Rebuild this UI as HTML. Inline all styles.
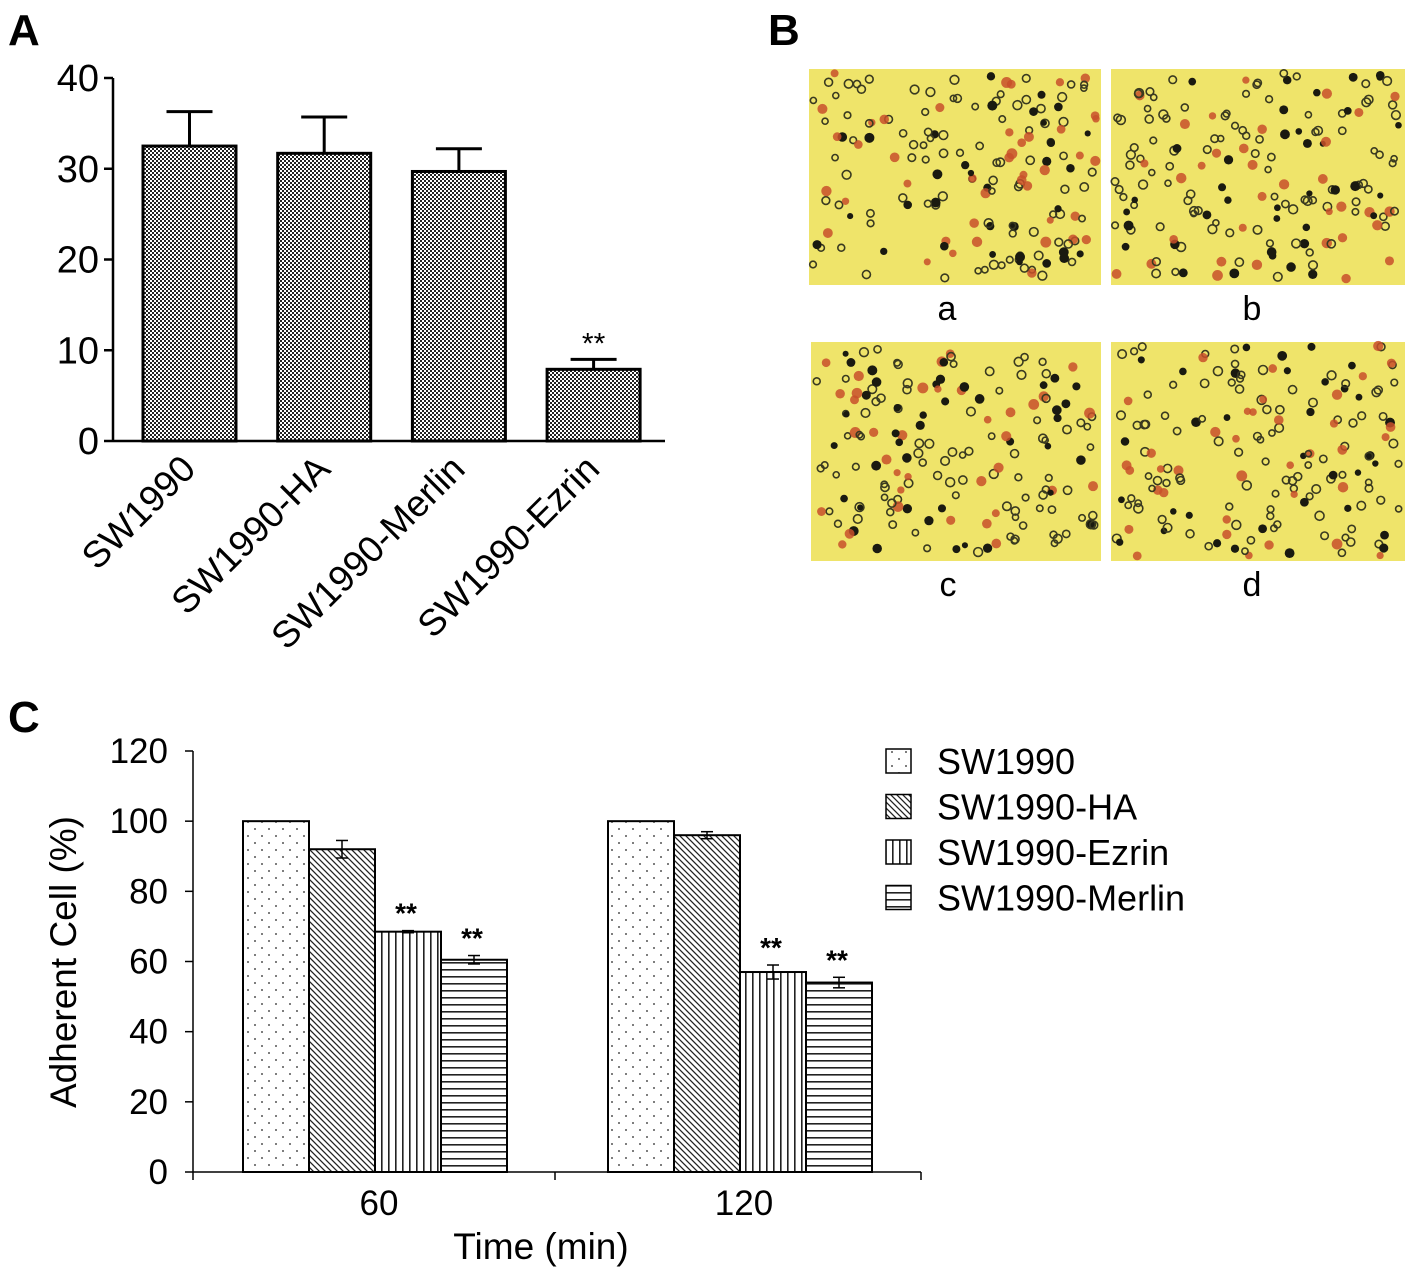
<!DOCTYPE html>
<html><head><meta charset="utf-8"><style>
body{margin:0;background:#fff;}
svg{display:block;font-family:"Liberation Sans",Arial,sans-serif;}
</style></head><body>
<svg id="fig" width="1417" height="1274" viewBox="0 0 1417 1274">
<defs>
<pattern id="pchk" width="4" height="4" patternUnits="userSpaceOnUse"><rect width="4" height="4" fill="#fff"/><rect width="2" height="2" fill="#222"/><rect x="2" y="2" width="2" height="2" fill="#222"/></pattern>
<pattern id="pdot" width="14" height="14" patternUnits="userSpaceOnUse"><rect width="14" height="14" fill="#fff"/><circle cx="3" cy="3" r="1" fill="#555"/><circle cx="10" cy="10" r="1" fill="#555"/></pattern>
<pattern id="pdiag" width="6" height="6" patternUnits="userSpaceOnUse"><rect width="6" height="6" fill="#fff"/><path d="M-1,-1 L7,7 M-4,2 L1,7 M5,-1 L7,1" stroke="#222" stroke-width="1.3"/></pattern>
<pattern id="pvert" width="7" height="7" patternUnits="userSpaceOnUse"><rect width="7" height="7" fill="#fff"/><rect x="3" width="1.6" height="7" fill="#222"/></pattern>
<pattern id="phorz" width="7" height="7" patternUnits="userSpaceOnUse"><rect width="7" height="7" fill="#fff"/><rect y="3" width="7" height="1.6" fill="#222"/></pattern>
</defs>
<text x="8" y="45" font-size="44" font-weight="bold">A</text>
<text x="768" y="45" font-size="44" font-weight="bold">B</text>
<text x="8" y="732" font-size="44" font-weight="bold">C</text>
<g id="chartA"></g>
<g id="panelB"></g>
<g id="chartC"></g>
</svg>
<script>
const NS="http://www.w3.org/2000/svg";
function mk(parent,tag,attrs,text){const e=document.createElementNS(NS,tag);for(const k in attrs)e.setAttribute(k,attrs[k]);if(text!==undefined)e.textContent=text;parent.appendChild(e);return e;}

// ---- Chart A data ----
const aCategories=["SW1990","SW1990-HA","SW1990-Merlin","SW1990-Ezrin"];
const aValues=[32.5,31.7,29.7,7.9];
const aErrors=[3.8,4.0,2.5,1.1];
const aSig=["","","","**"];
const aTicks=[0,10,20,30,40];

// ---- Chart C data ----
const cGroups=["60","120"];
const cSeries=["SW1990","SW1990-HA","SW1990-Ezrin","SW1990-Merlin"];
const cValues=[[100,92,68.5,60.5],[100,96,57,54]];
const cErrors=[[0,2.5,0.3,1.2],[0,1,2,1.5]];
const cSig=[["","","**","**"],["","","**","**"]];
const cTicks=[0,20,40,60,80,100,120];
const cFills=["url(#pdot)","url(#pdiag)","url(#pvert)","url(#phorz)"];

// Chart A
(function(){
const g=document.getElementById('chartA');
const x0=113,xEnd=665,y0=441,yTop=78,max=40;
const y=v=>y0-(v/max)*(y0-yTop);
const left=143,step=134.7,bw=93;
mk(g,'line',{x1:x0,y1:y0,x2:xEnd,y2:y0,stroke:'#000','stroke-width':2.5});
mk(g,'line',{x1:x0,y1:yTop,x2:x0,y2:y0,stroke:'#000','stroke-width':2.5});
aTicks.forEach(t=>{
 mk(g,'line',{x1:x0-9,y1:y(t),x2:x0,y2:y(t),stroke:'#000','stroke-width':2.5});
 const tl=mk(g,'text',{x:x0-14,y:y(t)+13,'font-size':38,'text-anchor':'end'},String(t));
 
 
});
aValues.forEach((v,i)=>{
 const bx=left+i*step, cx=bx+bw/2;
 const e=y(v+aErrors[i]);
 mk(g,'line',{x1:cx,y1:e,x2:cx,y2:y(v),stroke:'#000','stroke-width':3});
 mk(g,'line',{x1:cx-23,y1:e,x2:cx+23,y2:e,stroke:'#000','stroke-width':3});
 const r=mk(g,'rect',{x:bx,y:y(v),width:bw,height:y0-y(v),fill:'url(#pchk)',stroke:'#000','stroke-width':3});
 
 
 if(aSig[i]){const s=mk(g,'text',{x:cx,y:e-6,'font-size':30,'text-anchor':'middle'},aSig[i]);
  
  }
 const tl=mk(g,'text',{x:cx+8,y:y0+30,'font-size':37,'text-anchor':'end',transform:`rotate(-45 ${cx+8} ${y0+30})`},aCategories[i]);
 
 
});
})();

// Panel B micrographs (decorative texture)
(function(){
const g=document.getElementById('panelB');
const imgs=[[809,69,292,216,'a'],[1111,69,294,216,'b'],[811,342,290,219,'c'],[1111,342,294,219,'d']];
let seed=7;const rnd=()=>{seed=(seed*16807)%2147483647;return seed/2147483647;};
imgs.forEach(([x,yy,w,h,l])=>{
 const r=mk(g,'rect',{x:x,y:yy,width:w,height:h,fill:'#efe46a'});
 
 
 for(let k=0;k<170;k++){
  const cx=x+4+rnd()*(w-8),cy=yy+4+rnd()*(h-8),t=rnd();
  if(t<0.6) mk(g,'circle',{cx,cy,r:3+rnd()*1.5,fill:'none',stroke:'#3a3a20','stroke-width':1.6});
  else if(t<0.8) mk(g,'circle',{cx,cy,r:3.5+rnd()*2,fill:'#c8502a',opacity:0.85});
  else mk(g,'circle',{cx,cy,r:3+rnd()*2,fill:'#1a1a10'});
 }
 const lt=mk(g,'text',{x:x+w/2+(l==='a'||l==='c'?-8:-6),y:yy+h+35,'font-size':34,'text-anchor':'middle'},l);
 
 
});
})();

// Chart C
(function(){
const g=document.getElementById('chartC');
const x0=193,xEnd=921,y0=1172,yTop=751,max=120;
const y=v=>y0-(v/max)*(y0-yTop);
const gStart=[243,608],bw=66;
mk(g,'line',{x1:x0,y1:y0,x2:xEnd,y2:y0,stroke:'#000','stroke-width':1.5});
mk(g,'line',{x1:x0,y1:yTop,x2:x0,y2:y0,stroke:'#000','stroke-width':1.5});
[x0,555,xEnd].forEach(tx=>mk(g,'line',{x1:tx,y1:y0,x2:tx,y2:y0+8,stroke:'#000','stroke-width':1.5}));
cTicks.forEach(t=>{
 mk(g,'line',{x1:x0-8,y1:y(t),x2:x0,y2:y(t),stroke:'#000','stroke-width':1.5});
 const tl=mk(g,'text',{x:x0-25,y:y(t)+12,'font-size':35,'text-anchor':'end'},String(t));
 
 
});
cGroups.forEach((gr,gi)=>{
 cValues[gi].forEach((v,si)=>{
  const bx=gStart[gi]+si*bw,cx=bx+bw/2;
  const r=mk(g,'rect',{x:bx,y:y(v),width:bw,height:y0-y(v),fill:cFills[si],stroke:'#000','stroke-width':2});
  
  
  const er=cErrors[gi][si];
  if(er>0){
   mk(g,'line',{x1:cx,y1:y(v+er),x2:cx,y2:y(v-er),stroke:'#000','stroke-width':1.5});
   [v+er,v-er].forEach(ev=>mk(g,'line',{x1:cx-6,y1:y(ev),x2:cx+6,y2:y(ev),stroke:'#000','stroke-width':1.5}));
  }
  if(cSig[gi][si]){const s=mk(g,'text',{x:cx-2,y:y(v+er)-8,'font-size':28,'font-weight':'bold','text-anchor':'middle'},cSig[gi][si]);
   
   }
 });
 const gl=mk(g,'text',{x:gStart[gi]+2*bw+4,y:1215,'font-size':35,'text-anchor':'middle'},gr);
 
 
});
const xt=mk(g,'text',{x:541,y:1259,'font-size':37,'text-anchor':'middle'},'Time (min)');


const yt=mk(g,'text',{x:76,y:962,'font-size':37,'text-anchor':'middle',transform:'rotate(-90 76 962)'},'Adherent Cell (%)');


cSeries.forEach((s,i)=>{
 const ly=749+i*45.5;
 const le=mk(g,'g',{});
 
 
 mk(le,'rect',{x:886,y:ly,width:25,height:24,fill:cFills[i],stroke:'#000','stroke-width':1.5});
 mk(le,'text',{x:937,y:ly+25,'font-size':36},s);
});
})();
</script>
</body></html>
